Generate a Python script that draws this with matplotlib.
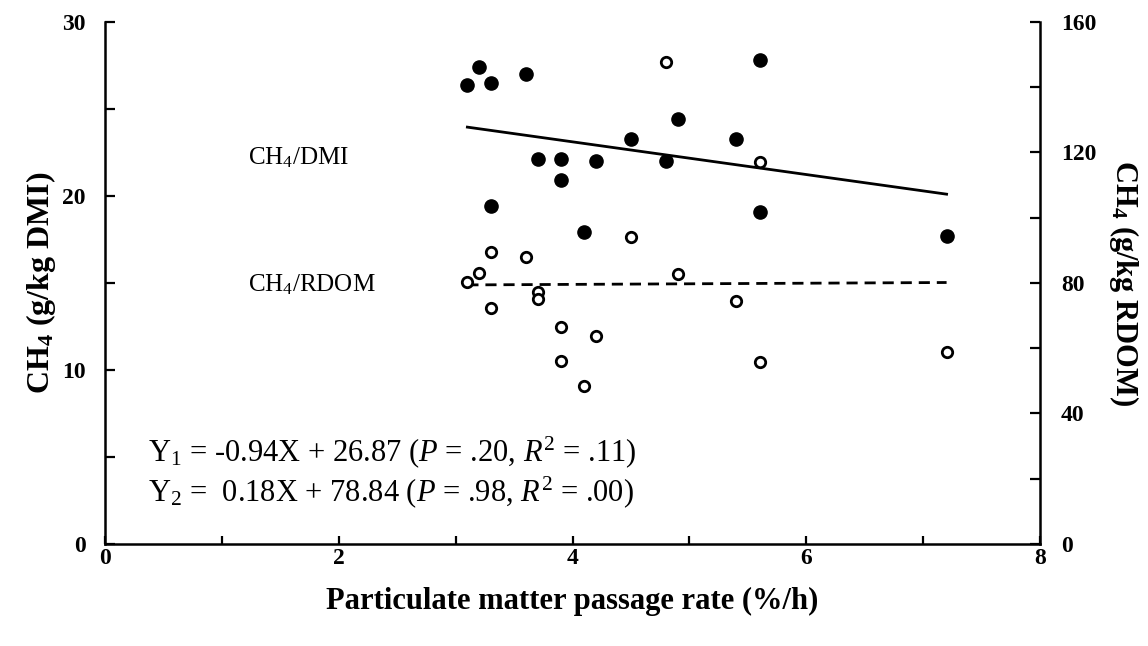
import numpy as np
import matplotlib
matplotlib.use("Agg")
import matplotlib.pyplot as plt

plt.rcParams['font.family'] = ['Liberation Serif', 'DejaVu Serif']
plt.rcParams['mathtext.fontset'] = 'custom'
plt.rcParams['mathtext.rm'] = 'Liberation Serif'
plt.rcParams['mathtext.it'] = 'Liberation Serif:italic'
plt.rcParams['mathtext.bf'] = 'Liberation Serif:bold'

# CH4 per kg DMI (left axis, filled circles)
dmi_rate = [3.1, 3.2, 3.3, 3.3, 3.6, 3.7, 3.9, 3.9, 4.1, 4.2, 4.5, 4.8, 4.9, 5.4, 5.6, 5.6, 7.2]
dmi_ch4 = [26.4, 27.4, 26.5, 19.4, 27.0, 22.1, 22.1, 20.9, 17.9, 22.0, 23.3, 22.0, 24.4, 23.3, 27.8, 19.1, 17.7]

# CH4 per kg RDOM (right axis, open circles)
rdom_rate = [3.1, 3.2, 3.3, 3.3, 3.6, 3.7, 3.7, 3.9, 3.9, 4.1, 4.2, 4.5, 4.8, 4.9, 5.4, 5.6, 5.6, 7.2]
rdom_ch4 = [80.4, 83.0, 89.6, 72.2, 87.9, 77.3, 75.1, 66.4, 56.2, 48.5, 63.8, 94.0, 147.6, 82.7, 74.6, 117.0, 55.7, 58.8]

# regression coefficients (slope, intercept)
fit_dmi = (-0.94, 26.87)
fit_rdom = (0.18, 78.84)
fit_range = [3.1, 7.2]

fig = plt.figure(figsize=(11.48, 6.46), dpi=100)
ax = fig.add_axes([0.0915, 0.158, 0.8145, 0.808])
ax2 = ax.twinx()

xr = np.array(fit_range)
ax.plot(xr, fit_dmi[0] * xr + fit_dmi[1], color='black', lw=2.0)
ax2.plot(xr, fit_rdom[0] * xr + fit_rdom[1], color='black', lw=2.0, dashes=(4, 2.5))

ax.plot(dmi_rate, dmi_ch4, 'o', color='black', ms=9.5, zorder=3)
ax2.plot(rdom_rate, rdom_ch4, 'o', mfc='white', mec='black', mew=2.0, ms=7.5, zorder=3)

ax.set_xlim(0, 8)
ax.set_ylim(0, 30)
ax2.set_ylim(0, 160)

ax.set_xticks([0, 2, 4, 6, 8])
ax.set_xticks(range(9), minor=True)
ax.set_yticks([0, 10, 20, 30])
ax.set_yticks([5, 15, 25], minor=True)
ax2.set_yticks([0, 40, 80, 120, 160])
ax2.set_yticks([20, 60, 100, 140], minor=True)

for a in (ax, ax2):
    a.spines['top'].set_visible(False)
    for s in a.spines.values():
        s.set_linewidth(1.8)
    a.tick_params(which='both', direction='in', width=1.6, length=7, labelsize=17)
ax.spines['right'].set_visible(False)
ax2.spines['left'].set_visible(False)
ax2.spines['bottom'].set_visible(False)
ax.tick_params(axis='x', which='both', length=6, pad=3)
ax.tick_params(axis='y', pad=14)
ax2.tick_params(axis='y', pad=15)

for lbl in ax.get_xticklabels() + ax.get_yticklabels() + ax2.get_yticklabels():
    lbl.set_fontweight('bold')

ax.set_xlabel('Particulate matter passage rate (%/h)', fontsize=22, fontweight='bold', labelpad=13)
ax.set_ylabel(r'CH$_\mathbf{4}$ (g/kg DMI)', fontsize=23, fontweight='bold', labelpad=3)
ax2.set_ylabel(r'CH$_\mathbf{4}$ (g/kg RDOM)', fontsize=22, fontweight='bold', rotation=270, labelpad=32)

ax.text(1.22, 22.2, r'CH$_4$/DMI', fontsize=18, va='center', ha='left')
ax.text(1.22, 14.9, r'CH$_4$/RDOM', fontsize=18, va='center', ha='left')

ax.text(0.37, 5.3, r'Y$_1$ = -0.94X + 26.87 ($P$ = .20, $R^2$ = .11)', fontsize=22, va='center', ha='left')
ax.text(0.37, 2.95, r'Y$_2$ =  0.18X + 78.84 ($P$ = .98, $R^2$ = .00)', fontsize=22, va='center', ha='left')

fig.savefig('out.png', dpi=100)
